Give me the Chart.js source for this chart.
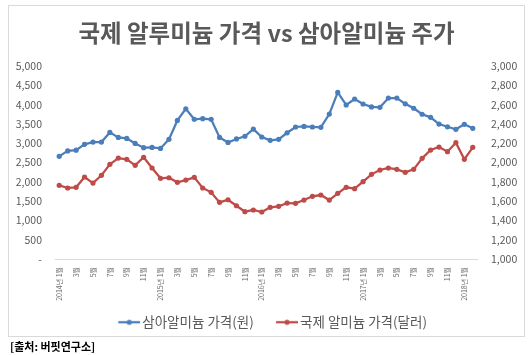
<!DOCTYPE html>
<html>
<head>
<meta charset="utf-8">
<script src="https://cdn.jsdelivr.net/npm/chart.js@4.4.1/dist/chart.umd.min.js"></script>
<style>
  html, body { margin: 0; padding: 0; background: #ffffff; }
  body { width: 530px; height: 355px; position: relative; overflow: hidden; }
  #frame { position: absolute; left: 8px; top: 5px; width: 517px; height: 332px; box-sizing: border-box; border: 1px solid #d9d9d9; }
  #c { position: absolute; left: 8px; top: 5px; }
  #src { position: absolute; left: 10px; top: 339px; font-family: 'Noto Sans CJK KR', sans-serif; font-weight: bold; font-size: 11px; color: #000; line-height: 14px; white-space: nowrap; }
</style>
</head>
<body>
<div id="frame"></div>
<canvas id="c" width="517" height="334"></canvas>
<div id="src">[출처: 버핏연구소]</div>
<script>
// ---- data ----
const chartTitle = '국제 알루미늄 가격 vs 삼아알미늄 주가';
const categories = [
  '2014년 1월','2월','3월','4월','5월','6월','7월','8월','9월','10월','11월','12월',
  '2015년 1월','2월','3월','4월','5월','6월','7월','8월','9월','10월','11월','12월',
  '2016년 1월','2월','3월','4월','5월','6월','7월','8월','9월','10월','11월','12월',
  '2017년 1월','2월','3월','4월','5월','6월','7월','8월','9월','10월','11월','12월',
  '2018년 1월','2월'
];
const stockLabel = '삼아알미늄 가격(원)';
const stockPrice = [
  2660, 2800, 2820, 2970, 3030, 3030, 3280, 3150, 3125, 2995, 2885, 2890,
  2865, 3100, 3590, 3890, 3620, 3635, 3620, 3150, 3020, 3110, 3180, 3365,
  3160, 3075, 3100, 3270, 3420, 3435, 3420, 3410, 3755, 4315, 3990, 4145,
  4015, 3940, 3930, 4170, 4170, 4020, 3905, 3750, 3670, 3495, 3425, 3360,
  3490, 3385
];
const alumLabel = '국제 알미늄 가격(달러)';
const alumPrice = [
  1763, 1736, 1743, 1850, 1787, 1867, 1981, 2046, 2033, 1971, 2054, 1943,
  1836, 1842, 1795, 1818, 1846, 1736, 1691, 1587, 1614, 1552, 1490, 1508,
  1487, 1536, 1546, 1580, 1577, 1611, 1650, 1663, 1611, 1681, 1743, 1729,
  1801, 1877, 1922, 1943, 1929, 1898, 1929, 2043, 2129, 2160, 2112, 2205,
  2033, 2157
];
const leftTicks = { min: 0, max: 5000, step: 500 };
const rightTicks = { min: 1000, max: 3000, step: 200 };

// ---- styles ----
const BLUE = '#4a7ebb';
const RED = '#be4b48';
const TXT = '#595959';
const FONT = "'Noto Sans CJK KR', 'Noto Sans', sans-serif";

function legendSymbol(color) {
  const c = document.createElement('canvas');
  c.width = 39; c.height = 10;
  const g = c.getContext('2d');
  g.strokeStyle = color; g.lineWidth = 2.25;
  g.beginPath(); g.moveTo(17, 5); g.lineTo(39, 5); g.stroke();
  g.fillStyle = color;
  g.beginPath(); g.arc(28, 5, 2.6, 0, Math.PI * 2); g.fill();
  return c;
}
const symbols = [legendSymbol(BLUE), legendSymbol(RED)];

const fmt = v => v.toLocaleString('en-US');

new Chart(document.getElementById('c'), {
  type: 'line',
  data: {
    labels: categories,
    datasets: [
      { label: stockLabel, data: stockPrice, yAxisID: 'y', borderColor: BLUE, backgroundColor: BLUE,
        pointBackgroundColor: BLUE, pointBorderColor: BLUE, borderWidth: 2.25, pointRadius: 2.6, pointBorderWidth: 0, tension: 0 },
      { label: alumLabel, data: alumPrice, yAxisID: 'y1', borderColor: RED, backgroundColor: RED,
        pointBackgroundColor: RED, pointBorderColor: RED, borderWidth: 2.25, pointRadius: 2.6, pointBorderWidth: 0, tension: 0 }
    ]
  },
  options: {
    responsive: false,
    animation: false,
    layout: { padding: 0 },
    plugins: {
      title: { display: true, text: chartTitle, color: TXT,
        font: { family: FONT, size: 23.5, weight: 'bold' }, padding: { top: 14.4, bottom: 18.4 } },
      legend: {
        display: true, position: 'bottom',
        labels: {
          color: TXT, font: { family: FONT, size: 13.5 }, padding: 10,
          usePointStyle: true, pointStyleWidth: 29.5,
          generateLabels: (chart) => chart.data.datasets.map((ds, i) => ({
            text: ds.label, fillStyle: ds.borderColor, strokeStyle: ds.borderColor,
            lineWidth: 0, hidden: false, datasetIndex: i, pointStyle: symbols[i], fontColor: TXT
          }))
        }
      },
      tooltip: { enabled: false }
    },
    scales: {
      x: {
        offset: true,
        grid: { display: false, drawTicks: false },
        border: { display: true, color: '#d9d9d9', width: 1 },
        ticks: {
          autoSkip: false, minRotation: 90, maxRotation: 90, padding: 8, color: '#6a6a6a',
          font: { family: FONT, size: 7 },
          callback: function (val, i) { return i % 2 === 0 ? this.getLabelForValue(val) : ''; }
        },
        afterFit: s => { s.height = 46.5; }
      },
      y: {
        position: 'left', min: leftTicks.min, max: leftTicks.max,
        grid: { display: false, drawTicks: false }, border: { display: false },
        ticks: { stepSize: leftTicks.step, padding: 13, color: TXT, font: { family: FONT, size: 10.5 },
          callback: v => v === 0 ? '-' : fmt(v) },
        afterFit: s => { s.width = 47; }
      },
      y1: {
        position: 'right', min: rightTicks.min, max: rightTicks.max,
        grid: { display: false, drawTicks: false }, border: { display: false },
        ticks: { stepSize: rightTicks.step, padding: 14, color: TXT, font: { family: FONT, size: 10.5 },
          callback: v => fmt(v) },
        afterFit: s => { s.width = 48; }
      }
    }
  }
});
</script>
</body>
</html>
